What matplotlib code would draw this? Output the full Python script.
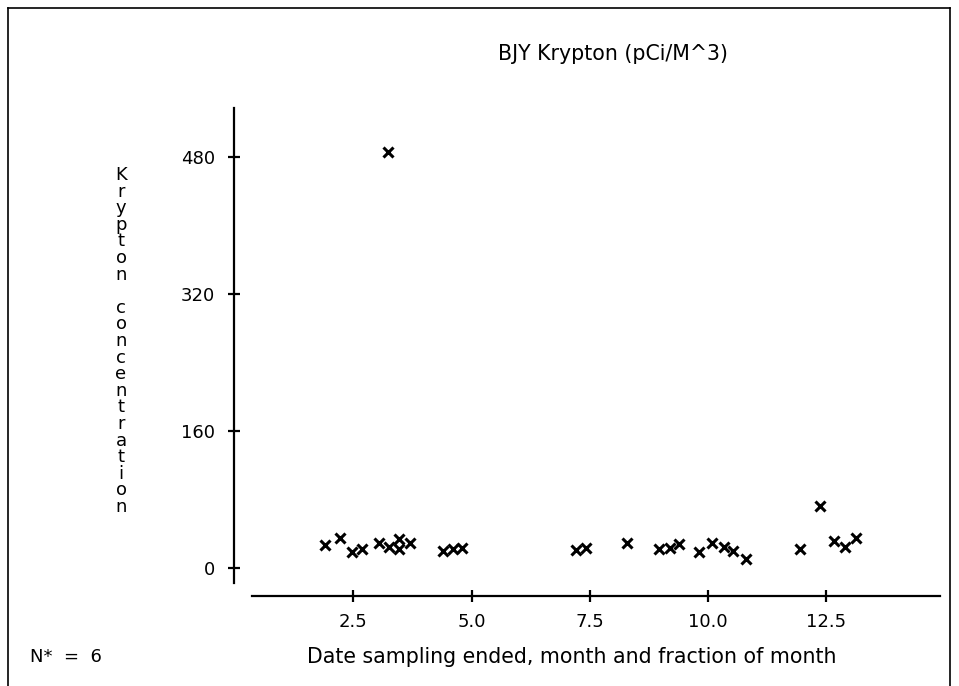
import matplotlib
matplotlib.use("Agg")
import matplotlib.pyplot as plt
from matplotlib.lines import Line2D

# ---- data ----
month = [1.90, 2.23, 2.48, 2.69, 3.04, 3.25, 3.47, 3.47, 3.70, 3.24,
         4.40, 4.60, 4.79, 7.20, 7.42, 8.28, 8.97, 9.19, 9.38, 9.81,
         10.09, 10.33, 10.53, 10.81, 11.94, 12.36, 12.66, 12.89, 13.12]
krypton = [27.2, 35.7, 19.4, 22.5, 29.9, 25.2, 33.8, 22.2, 29.2, 485.8,
           20.5, 22.5, 24.0, 21.3, 23.7, 29.2, 22.2, 23.3, 28.0, 18.7,
           29.2, 25.2, 20.2, 10.8, 22.2, 72.7, 32.2, 24.5, 35.0]
xticks = [2.5, 5.0, 7.5, 10.0, 12.5]
xticklabels = ["2.5", "5.0", "7.5", "10.0", "12.5"]
yticks = [0, 160, 320, 480]
yticklabels = ["0", "160", "320", "480"]
title = "BJY Krypton (pCi/M^3)"
ylabel = "Krypton concentration"
xlabel = "Date sampling ended, month and fraction of month"
note = "N*  =  6"

W, H = 959, 686
FONT = "DejaVu Sans"
FS = 13
FS_TXT = 14.8

fig = plt.figure(figsize=(W / 100, H / 100), dpi=100)

def fx(px):
    return px / W

def fy(py):
    return 1 - py / H

ax_l, ax_r, ax_t, ax_b = 252, 940, 108, 583
ax = fig.add_axes([fx(ax_l), fy(ax_b), fx(ax_r) - fx(ax_l), fy(ax_t) - fy(ax_b)])
ax.set_xlim(0.36, 14.9)
ax.set_ylim(-17.1, 537)

ax.plot(month, krypton, linestyle="none", marker="x", color="black",
        markersize=7, markeredgewidth=2.2)

for s in ["top", "right"]:
    ax.spines[s].set_visible(False)
ax.spines["left"].set_position(("outward", 18 * 0.72))
ax.spines["bottom"].set_position(("outward", 13 * 0.72))
ax.spines["left"].set_linewidth(1.6)
ax.spines["bottom"].set_linewidth(1.6)

ax.set_xticks(xticks)
ax.set_xticklabels(xticklabels)
ax.set_yticks(yticks)
ax.set_yticklabels(yticklabels)
ax.tick_params(axis="both", direction="inout", length=9, width=1.6,
               labelsize=FS, color="black", labelcolor="black")
ax.tick_params(axis="x", pad=8)
ax.tick_params(axis="y", pad=9)
for lab in ax.get_xticklabels() + ax.get_yticklabels():
    lab.set_fontfamily(FONT)

fig.text(fx(613), fy(54), title, ha="center", va="center", fontsize=FS_TXT, family=FONT)
fig.text(fx(572), fy(657), xlabel, ha="center", va="center", fontsize=FS_TXT, family=FONT)
fig.text(fx(30), fy(657), note, ha="left", va="center", fontsize=FS, family=FONT)

# stacked vertical label
base0, step = 180, 16.6
for i, ch in enumerate(ylabel):
    if ch == " ":
        continue
    fig.text(fx(121), fy(base0 + i * step), ch, ha="center", va="baseline",
             fontsize=FS, family=FONT)

# page frame
for (x0, y0, x1, y1) in [(8, 8, 8, 700), (8, 8, 950, 8), (950, 8, 950, 700)]:
    fig.add_artist(Line2D([fx(x0), fx(x1)], [fy(y0), fy(y1)], color="black", linewidth=1.2,
                          transform=fig.transFigure))

fig.savefig("out.png", dpi=100)
